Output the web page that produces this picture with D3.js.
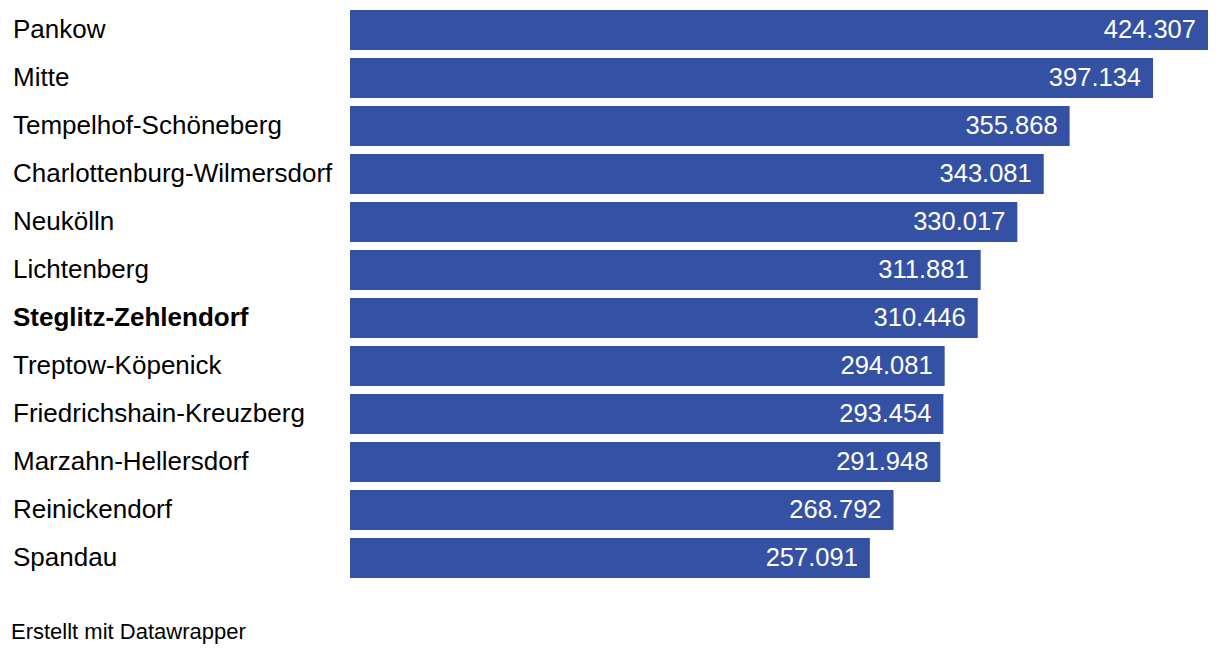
<!DOCTYPE html>
<html><head><meta charset="utf-8">
<script src="https://cdn.jsdelivr.net/npm/d3@7"></script>
<style>body{margin:0;background:#fff;}svg{display:block;font-family:"Liberation Sans",Arial,sans-serif;}</style>
</head><body><svg id="c" width="1220" height="652"></svg>
<script>
const districts = ["Pankow","Mitte","Tempelhof-Schöneberg","Charlottenburg-Wilmersdorf","Neukölln","Lichtenberg","Steglitz-Zehlendorf","Treptow-Köpenick","Friedrichshain-Kreuzberg","Marzahn-Hellersdorf","Reinickendorf","Spandau"];
const values = [424.307,397.134,355.868,343.081,330.017,311.881,310.446,294.081,293.454,291.948,268.792,257.091];
const valueLabels = ["424.307","397.134","355.868","343.081","330.017","311.881","310.446","294.081","293.454","291.948","268.792","257.091"];
const highlighted = ["Steglitz-Zehlendorf"];
const footer = "Erstellt mit Datawrapper";

const svg = d3.select("#c");
const x = d3.scaleLinear().domain([0, d3.max(values)]).range([350, 1208]);
const y = d3.scaleBand().domain(districts).range([10, 578]).paddingInner(1/6).paddingOuter(0).align(0);

const rows = svg.selectAll("g.row").data(districts).enter().append("g").attr("class","row");
rows.append("rect")
  .attr("x", x(0))
  .attr("y", d => y(d))
  .attr("width", (d,i) => x(values[i]) - x(0))
  .attr("height", y.bandwidth())
  .attr("fill", "#3551a4");
rows.append("text")
  .attr("x", 13)
  .attr("y", d => y(d) + y.bandwidth()/2)
  .attr("dy", "0.32em")
  .attr("font-size", 26)
  .attr("font-weight", d => highlighted.includes(d) ? "bold" : "normal")
  .attr("fill", "#000")
  .text(d => d);
rows.append("text")
  .attr("x", (d,i) => x(values[i]) - 12)
  .attr("y", d => y(d) + y.bandwidth()/2)
  .attr("dy", "0.31em")
  .attr("text-anchor", "end")
  .attr("font-size", 25.5)
  .attr("fill", "#fff")
  .text((d,i) => valueLabels[i]);
svg.append("text").attr("x", 11).attr("y", 639).attr("font-size", 22).attr("fill","#000").text(footer);
</script></body></html>
